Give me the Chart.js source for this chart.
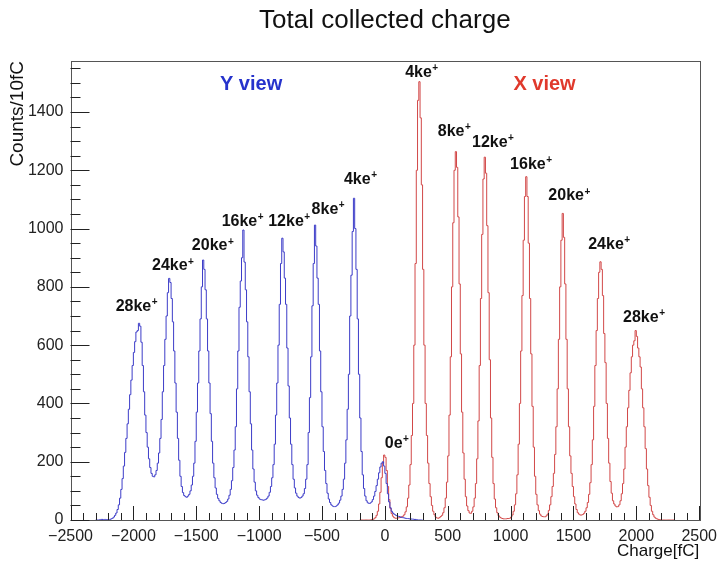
<!DOCTYPE html>
<html>
<head>
<meta charset="utf-8">
<script src="https://cdn.jsdelivr.net/npm/chart.js@4.4.1/dist/chart.umd.min.js"></script>
<style>
  html, body { margin: 0; padding: 0; background: #fff; }
  #wrap { width: 724px; height: 563px; }
</style>
</head>
<body>
<div id="wrap"><canvas id="grafico" width="724" height="563"></canvas></div>
<script>
// Histogramas de carga, bins de 10 fC
const anchoBin = 10;

// Y view: primer bin empieza en -2300 fC
const inicioY = -2300;
const cuentasY = [
    0, 0, 0, 0, 1, 2, 2, 1, 2, 1,                       // -2300
    1, 1, 2, 4, 6, 10, 16, 24, 36, 52,                  // -2200
    75, 105, 142, 185, 232, 280, 330, 380, 430, 480,    // -2100
    530, 575, 612, 645, 650, 675, 665, 610, 530, 440,   // -2000
    360, 300, 250, 210, 180, 160, 150, 148, 155, 170,   // -1900
    195, 230, 280, 345, 440, 530, 620, 700, 780, 829,   // -1800
    815, 760, 680, 580, 470, 370, 280, 205, 150, 115,   // -1700
    94, 84, 80, 78, 82, 88, 100, 120, 150, 195,         // -1600
    270, 370, 470, 580, 690, 800, 892, 860, 790, 690,   // -1500
    580, 470, 365, 270, 195, 145, 110, 88, 74, 66,      // -1400
    60, 57, 56, 57, 60, 64, 72, 85, 105, 135,           // -1300
    180, 240, 320, 450, 580, 730, 820, 900, 995, 885,   // -1200
    790, 680, 560, 440, 330, 240, 175, 130, 100, 85,    // -1100
    77, 72, 70, 69, 68, 69, 71, 75, 82, 95,             // -1000
    115, 145, 190, 260, 360, 470, 600, 740, 880, 967,   // -900
    920, 830, 740, 590, 460, 350, 260, 190, 140, 110,   // -800
    92, 82, 77, 75, 77, 82, 90, 108, 140, 190,          // -700
    300, 420, 560, 735, 880, 1012, 940, 830, 740, 580,  // -600
    440, 320, 235, 170, 125, 92, 72, 60, 52, 48,        // -500
    46, 46, 48, 52, 58, 68, 82, 105, 140, 195,          // -400
    275, 380, 500, 700, 840, 990, 1104, 1000, 860, 690, // -300
    500, 350, 235, 155, 108, 82, 66, 59, 57, 58,        // -200
    62, 70, 82, 98, 118, 140, 162, 182, 195, 200,       // -100
    185, 160, 125, 90, 62, 42, 30, 24, 20, 17,          // 0
    15, 13, 12, 10, 9, 8, 7, 6, 5, 5,                   // 100
    4, 4, 3, 3, 2, 2, 1, 0, 0, 0                        // 200
];

// X view: primer bin empieza en -200 fC
const inicioX = -200;
const cuentasX = [
    0, 0, 0, 0, 0, 0, 0, 0, 0, 0,                       // -200
    1, 2, 4, 8, 16, 30, 55, 95, 145, 195,               // -100
    223, 215, 170, 115, 70, 40, 22, 13, 8, 6,           // 0
    6, 7, 8, 9, 11, 13, 18, 28, 45, 75,                 // 100
    120, 190, 290, 400, 600, 880, 1200, 1440, 1504, 1380, // 200
    1150, 860, 600, 400, 290, 195, 125, 80, 50, 30,     // 300
    18, 10, 7, 6, 8, 12, 16, 25, 42, 75,                // 400
    130, 220, 360, 560, 800, 1020, 1200, 1264, 1210, 1040, // 500
    810, 570, 370, 230, 140, 80, 48, 32, 24, 23,        // 600
    30, 45, 75, 125, 210, 340, 530, 760, 980, 1170,     // 700
    1245, 1190, 1010, 780, 550, 350, 215, 125, 72, 42,  // 800
    25, 15, 10, 7, 5, 4, 4, 4, 5, 5,                    // 900
    6, 10, 17, 30, 52, 90, 155, 260, 400, 580,          // 1000
    770, 960, 1110, 1178, 1110, 950, 760, 570, 390, 250, // 1100
    150, 88, 52, 32, 20, 14, 12, 11, 11, 14,            // 1200
    20, 33, 52, 80, 115, 160, 225, 320, 450, 620,       // 1300
    800, 960, 1052, 970, 810, 620, 450, 320, 220, 160,  // 1400
    115, 80, 55, 36, 25, 20, 17, 17, 19, 23,            // 1500
    30, 42, 60, 88, 128, 190, 275, 390, 530, 650,       // 1600
    760, 850, 886, 860, 770, 640, 540, 400, 280, 195,   // 1700
    132, 92, 66, 55, 48, 45, 46, 52, 66, 90,            // 1800
    125, 175, 250, 320, 385, 445, 505, 560, 600, 615,   // 1900
    650, 630, 590, 560, 525, 450, 385, 320, 245, 175,   // 2000
    118, 78, 50, 30, 18, 10, 6, 4, 2, 1,                // 2100
    1, 0, 0, 0, 0, 0, 0, 0, 0, 0                        // 2200
];

// Ejes
const ticksX = [-2500, -2000, -1500, -1000, -500, 0, 500, 1000, 1500, 2000, 2500];
const ticksY = [0, 200, 400, 600, 800, 1000, 1200, 1400];
const maxY = 1575;

// Etiquetas de picos (carga, cuentas donde va el texto)
const picosTexto = ['28ke', '24ke', '20ke', '16ke', '12ke', '8ke', '4ke',
                    '0e',
                    '4ke', '8ke', '12ke', '16ke', '20ke', '24ke', '28ke'];
const picosCarga = [-1976, -1687, -1370, -1133, -763, -453, -196,
                    93,
                    291, 550, 858, 1161, 1465, 1782, 2059];
const picosCuentas = [732, 872, 941, 1024, 1024, 1066, 1169,
                      263,
                      1535, 1333, 1295, 1221, 1112, 946, 696];

const vistasTexto = ['Y view', 'X view'];
const vistasCarga = [-1064, 1270];
const vistasCuentas = [1493, 1493];

const fuente = '"Liberation Sans", Arial, Helvetica, sans-serif';
const colorAzul = '#3c3cc8';
const colorRojo = '#d24848';

// Convertir bins a puntos escalonados
function puntosHistograma(inicio, cuentas) {
    const pts = cuentas.map((c, i) => ({ x: inicio + i * anchoBin, y: c }));
    pts.push({ x: inicio + cuentas.length * anchoBin, y: cuentas[cuentas.length - 1] });
    return pts;
}

function textoPico(ctx, texto, cx, cy) {
    ctx.font = 'bold 16px ' + fuente;
    const w1 = ctx.measureText(texto).width;
    ctx.font = 'bold 10px ' + fuente;
    const w2 = ctx.measureText('+').width;
    const x0 = cx - (w1 + w2) / 2;
    ctx.textAlign = 'left';
    ctx.textBaseline = 'middle';
    ctx.fillStyle = '#111';
    ctx.font = 'bold 16px ' + fuente;
    ctx.fillText(texto, x0, cy);
    ctx.font = 'bold 10px ' + fuente;
    ctx.fillText('+', x0 + w1 + 0.5, cy - 4);
}

// Marco, ticks hacia dentro y textos al estilo ROOT
const estiloRoot = {
    id: 'estiloRoot',
    afterDraw(chart) {
        const { ctx, chartArea: a, scales: { x, y } } = chart;
        ctx.save();

        // marco
        ctx.strokeStyle = '#555';
        ctx.lineWidth = 1;
        ctx.strokeRect(Math.round(a.left) + 0.5, Math.round(a.top) + 0.5,
                       Math.round(a.right - a.left), Math.round(a.bottom - a.top));

        // ticks eje X (principal cada 500, menor cada 100)
        ctx.strokeStyle = '#222';
        ctx.beginPath();
        for (let v = ticksX[0]; v <= ticksX[ticksX.length - 1]; v += 100) {
            const px = Math.round(x.getPixelForValue(v)) + 0.5;
            const largo = (v % 500 === 0) ? 14 : 7;
            ctx.moveTo(px, a.bottom);
            ctx.lineTo(px, a.bottom - largo);
        }
        // ticks eje Y (principal cada 200, menor cada 50)
        for (let v = 0; v <= maxY; v += 50) {
            const py = Math.round(y.getPixelForValue(v)) + 0.5;
            const largo = (v % 200 === 0) ? 19 : 10;
            ctx.moveTo(a.left, py);
            ctx.lineTo(a.left + largo, py);
        }
        ctx.stroke();

        // titulo
        ctx.fillStyle = '#111';
        ctx.font = '26px ' + fuente;
        ctx.textAlign = 'center';
        ctx.textBaseline = 'middle';
        ctx.fillText('Total collected charge', (a.left + a.right) / 2, 21);

        // titulos de ejes
        ctx.font = '17px ' + fuente;
        ctx.textAlign = 'right';
        ctx.fillText('Charge[fC]', a.right, 551);
        ctx.save();
        ctx.font = '19px ' + fuente;
        ctx.translate(18, a.top);
        ctx.rotate(-Math.PI / 2);
        ctx.textAlign = 'right';
        ctx.fillText('Counts/10fC', 0, 0);
        ctx.restore();

        // vistas
        ctx.font = 'bold 20px ' + fuente;
        ctx.textAlign = 'center';
        vistasTexto.forEach((t, i) => {
            ctx.fillStyle = i === 0 ? '#2633cc' : '#e0392c';
            ctx.fillText(t, x.getPixelForValue(vistasCarga[i]), y.getPixelForValue(vistasCuentas[i]));
        });

        // picos
        picosTexto.forEach((t, i) => {
            textoPico(ctx, t, x.getPixelForValue(picosCarga[i]), y.getPixelForValue(picosCuentas[i]));
        });

        ctx.restore();
    }
};

const ctxGrafico = document.getElementById('grafico').getContext('2d');
new Chart(ctxGrafico, {
    type: 'line',
    data: {
        datasets: [{
            label: 'Y view',
            data: puntosHistograma(inicioY, cuentasY),
            borderColor: colorAzul,
            borderWidth: 1,
            stepped: 'after',
            pointRadius: 0,
            fill: false
        }, {
            label: 'X view',
            data: puntosHistograma(inicioX, cuentasX),
            borderColor: colorRojo,
            borderWidth: 1,
            stepped: 'after',
            pointRadius: 0,
            fill: false
        }]
    },
    options: {
        responsive: false,
        animation: false,
        devicePixelRatio: 1,
        layout: { padding: { left: 0, right: 21.5, top: 61, bottom: 0 } },
        plugins: {
            legend: { display: false },
            tooltip: { enabled: false },
            title: { display: false }
        },
        scales: {
            x: {
                type: 'linear',
                min: -2500,
                max: 2500,
                afterBuildTicks: s => { s.ticks = ticksX.map(v => ({ value: v })); },
                afterFit: s => { s.height = 43; },
                grid: { display: false, drawTicks: false },
                border: { display: false },
                ticks: {
                    autoSkip: false,
                    maxRotation: 0,
                    padding: 7,
                    color: '#222',
                    font: { family: fuente, size: 16 },
                    callback: v => String(v).replace('-', '\u2212')
                }
            },
            y: {
                type: 'linear',
                min: 0,
                max: maxY,
                afterBuildTicks: s => { s.ticks = ticksY.map(v => ({ value: v })); },
                afterFit: s => { s.width = 70.5; },
                grid: { display: false, drawTicks: false },
                border: { display: false },
                ticks: {
                    autoSkip: false,
                    padding: 7,
                    color: '#222',
                    font: { family: fuente, size: 16 },
                    callback: v => String(v)
                }
            }
        }
    },
    plugins: [estiloRoot]
});
</script>
</body>
</html>
